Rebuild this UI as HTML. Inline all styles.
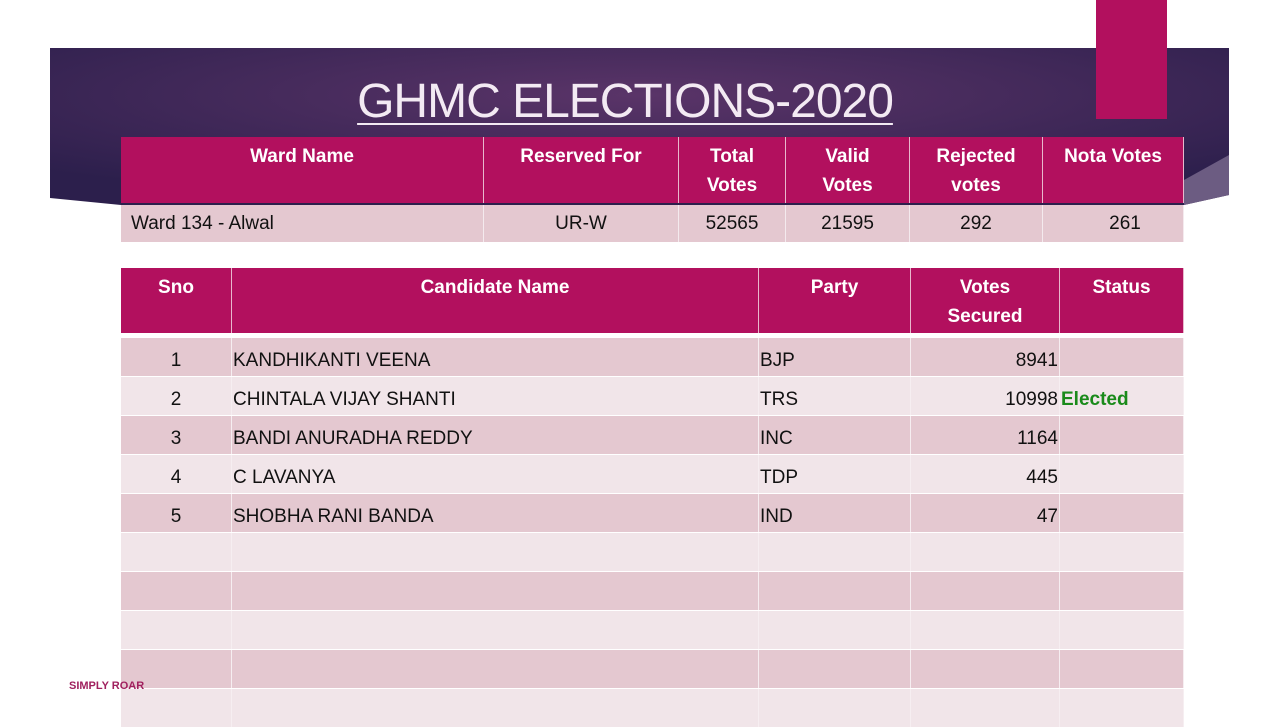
<!DOCTYPE html>
<html><head><meta charset="utf-8"><style>
body{margin:0;width:1280px;height:720px;overflow:hidden;background:#fff;font-family:"Liberation Sans",sans-serif;position:relative}
.a{position:absolute;box-sizing:border-box}
.hd{background:#b2105e;color:#fff;font-weight:bold;font-size:19px;text-align:center;line-height:29px;padding-top:5px;border-right:1px solid #e8b8cc}
.c{font-size:19px;color:#111;line-height:38px;white-space:nowrap;transform-origin:left center}
</style></head><body>
<svg class="a" style="left:0;top:0" width="1280" height="260">
<defs><radialGradient id="g" cx="0.5" cy="0.3" r="0.7"><stop offset="0" stop-color="#5a3468"/><stop offset="1" stop-color="#2c1f4c"/></radialGradient></defs>
<polygon points="50,48 1229,48 1229,195 1184,205 121,205 50,198" fill="url(#g)"/>
<polygon points="1229,155 1229,195 1184,205 1184,180" fill="#6c5c82"/>
</svg>
<div class="a" style="left:1096px;top:0;width:71px;height:119px;background:#b2105e"></div>
<div class="a" style="left:340px;top:72px;width:570px;text-align:center;color:#f3eaf3;font-size:48px;line-height:60px;text-decoration:underline;text-decoration-thickness:2px;text-underline-offset:6px;letter-spacing:-1px">GHMC ELECTIONS-2020</div>
<div class="a" style="left:69px;top:680px;font-size:11px;font-weight:bold;color:#a0205e;z-index:5">SIMPLY ROAR</div>
<script>
const wardHeaders=["Ward Name","Reserved For","Total<br>Votes","Valid<br>Votes","Rejected<br>votes","Nota Votes"];
const wardValues=["Ward 134 - Alwal","UR-W","52565","21595","292","261"];
const candHeaders=["Sno","Candidate Name","Party","Votes<br>Secured","Status"];
const snos=["1","2","3","4","5"];
const names=["KANDHIKANTI VEENA","CHINTALA VIJAY SHANTI","BANDI ANURADHA REDDY","C LAVANYA","SHOBHA RANI BANDA"];
const parties=["BJP","TRS","INC","TDP","IND"];
const votes=[8941,10998,1164,445,47];
const statuses=["","Elected","","",""];
const X1=[121,484,679,786,910,1043,1184];
const X2=[121,232,759,911,1060,1184];
function mk(name,cls,st,html){const d=document.createElement('div');d.className='a '+cls;d.style.cssText=st;d.innerHTML=html;


document.body.appendChild(d);return d;}
wardHeaders.forEach((h,i)=>{mk('ward-header-'+i,'hd',`left:${X1[i]}px;top:137px;width:${X1[i+1]-X1[i]}px;height:66px`,h);});
wardValues.forEach((v,i)=>{mk('ward-cell-'+i,'c',`left:${X1[i]}px;top:205px;width:${X1[i+1]-X1[i]}px;height:37px;background:#e4c8d0;border-right:1px solid #f4eaee;text-align:${i==0?'left':'center'};padding-left:${i==0?10:(i==5?24:0)}px;line-height:38px`,v);});
candHeaders.forEach((h,i)=>{mk('candidate-header-'+i,'hd',`left:${X2[i]}px;top:268px;width:${X2[i+1]-X2[i]}px;height:65px`,h);});
for(let r=0;r<10;r++){const top=338+r*39;const bg=r%2==0?'#e4c8d0':'#f1e5e9';
 for(let i=0;i<5;i++){
  let txt='',al='left',pl=1,pr=0,col='#111',fw='normal';
  if(r<snos.length){
   if(i==0){txt=snos[r];al='center';pl=0}
   if(i==1){txt=names[r]}
   if(i==2){txt=parties[r]}
   if(i==3){txt=String(votes[r]);al='right';pr=1}
   if(i==4){txt=statuses[r];col='#1a8a1a';fw='bold';pl=1}
  }
  mk('row-'+(r+1)+'-cell-'+i,'c',`left:${X2[i]}px;top:${top}px;width:${X2[i+1]-X2[i]}px;height:38px;background:${bg};border-right:1px solid #f6eef1;text-align:${al};padding-left:${pl}px;padding-right:${pr}px;color:${col};font-weight:${fw};line-height:46px`,txt);
 }}
</script>
</body></html>
